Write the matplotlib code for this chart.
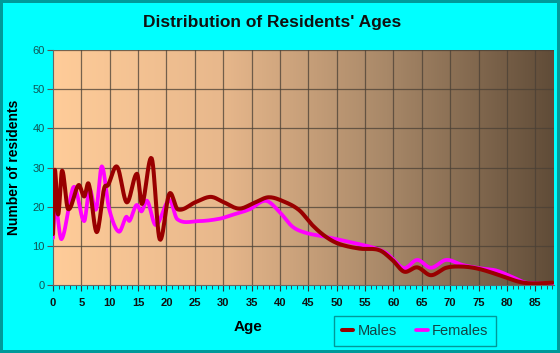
import numpy as np
import matplotlib
matplotlib.use("Agg")
from matplotlib import pyplot as plt
from matplotlib.colors import LinearSegmentedColormap

# values (age, residents)
male_ages = [0, 0.3, 0.9, 1.6, 2.65, 4.5, 5.5, 6.3, 7.7, 9.0, 9.7, 11.3, 13.0, 14.8,
             15.7, 17.4, 18.8, 20.5, 22.0, 25.2, 27.8, 30.0, 32.8, 35.5, 38.0, 40.7,
             43.4, 45.7, 48.1, 50.4, 54.0, 57.5, 59.8, 61.9, 64.2, 66.6, 69.3, 72.2,
             75.1, 78.7, 82.2, 84.6, 88.0]
male_counts = [13, 29.4, 18.0, 29.2, 19.4, 25.5, 22.6, 25.8, 13.5, 24.6, 25.5, 30.2, 21.1, 28.4,
               20.7, 32.3, 11.7, 23.3, 19.3, 21.2, 22.5, 21.2, 19.5, 21.0, 22.4, 21.3,
               19.1, 15.3, 12.3, 10.5, 9.3, 8.9, 6.4, 3.4, 4.5, 2.5, 4.4, 4.7,
               4.1, 2.5, 0.8, 0.4, 0.6]

female_ages = [0, 0.4, 1.5, 3.4, 4.0, 5.5, 6.4, 7.6, 8.6, 9.9, 11.6, 12.9, 13.5, 14.7,
               15.6, 16.6, 18.1, 20.5, 21.9, 25.5, 29.3, 31.6, 34.6, 37.5, 39.9, 42.2,
               44.6, 48.1, 52.2, 56.3, 58.6, 59.8, 61.9, 64.2, 66.6, 69.3, 72.2, 75.1,
               78.1, 81.0, 83.4, 88.0]
female_counts = [12, 20.5, 11.7, 24.3, 24.5, 16.3, 24.5, 19.3, 30.3, 19.4, 13.6, 17.4, 16.4, 20.4,
                 18.8, 21.5, 15.3, 21.7, 16.8, 16.3, 16.9, 17.9, 19.3, 21.5, 18.7, 14.9,
                 13.3, 12.3, 11.0, 9.6, 8.3, 6.8, 4.3, 6.4, 4.4, 6.4, 5.1, 4.3,
                 3.7, 2.0, 0.6, 0.4]

x_ticks = list(range(0, 90, 5))
y_ticks = list(range(0, 70, 10))


def smooth(xs, ys, n=12):
    # cubic hermite curve through the read points
    xs = np.asarray(xs, float)
    ys = np.asarray(ys, float)
    m = np.zeros_like(ys)
    m[1:-1] = (ys[2:] - ys[:-2]) / (xs[2:] - xs[:-2])
    m[0] = (ys[1] - ys[0]) / (xs[1] - xs[0])
    m[-1] = (ys[-1] - ys[-2]) / (xs[-1] - xs[-2])
    outx, outy = [], []
    for i in range(len(xs) - 1):
        h = xs[i + 1] - xs[i]
        t = np.linspace(0, 1, n, endpoint=False)
        h00 = 2 * t**3 - 3 * t**2 + 1
        h10 = t**3 - 2 * t**2 + t
        h01 = -2 * t**3 + 3 * t**2
        h11 = t**3 - t**2
        outx.extend(xs[i] + t * h)
        outy.extend(h00 * ys[i] + h10 * h * m[i] + h01 * ys[i + 1] + h11 * h * m[i + 1])
    outx.append(xs[-1])
    outy.append(ys[-1])
    return np.array(outx), np.clip(np.array(outy), 0, None)


plt.rcParams['font.family'] = ['Liberation Sans', 'DejaVu Sans']

fig = plt.figure(figsize=(5.6, 3.53), dpi=100, facecolor='#00FFFF',
                 edgecolor='#009999', linewidth=3)
ax = fig.add_axes([53 / 560, 1 - 285 / 353, 501 / 560, 235 / 353])

xmax = 88.3
cmap = LinearSegmentedColormap.from_list('bg', ['#FFCC99', '#E8B88C', '#A88868', '#604C38'])
grad = np.linspace(0, 1, 256).reshape(1, -1)
ax.imshow(grad, cmap=cmap, aspect='auto', extent=[0, xmax, 0, 60], zorder=0)

for x in x_ticks[1:]:
    ax.axvline(x, color='#4a4035', lw=0.9, alpha=0.75, zorder=1)
for y in y_ticks[1:]:
    ax.axhline(y, color='#4a4035', lw=0.9, alpha=0.75, zorder=1)

mx, my = smooth(male_ages, male_counts)
fx, fy = smooth(female_ages, female_counts)
ax.plot(fx, fy, color='#FF00FF', lw=2.7, label='Females', zorder=3, solid_capstyle='round')
ax.plot(mx, my, color='#990000', lw=2.9, label='Males', zorder=4, solid_capstyle='round')

ax.set_xlim(0, xmax)
ax.set_ylim(0, 60)
ax.set_xticks(x_ticks)
ax.set_xticks(range(0, 89), minor=True)
ax.set_yticks(y_ticks)
ax.tick_params(axis='x', which='major', length=4, color='#333333', labelsize=8, pad=5,
               labelcolor='#111111')
ax.tick_params(axis='x', which='minor', length=3, color='#333333')
ax.tick_params(axis='y', length=4, color='#555555', labelsize=8, labelcolor='#115555', pad=2)
for lab in ax.get_xticklabels():
    lab.set_fontweight('bold')
for side in ['top', 'right']:
    ax.spines[side].set_visible(False)
ax.spines['left'].set_color('#666666')
ax.spines['bottom'].set_color('#666666')

ax.set_xlabel('Age', fontsize=11, fontweight='bold', labelpad=9, x=0.39)
ax.set_ylabel('Number of residents', fontsize=10, fontweight='bold', labelpad=8)
fig.text(272 / 560, 1 - 23 / 353, "Distribution of Residents' Ages", ha='center', va='center',
         fontsize=12.5, fontweight='bold', color='#111111')

handles, labels = ax.get_legend_handles_labels()
leg = fig.legend(handles[::-1], labels[::-1], loc='center', bbox_to_anchor=(415 / 560, 1 - 331 / 353),
                 ncol=2, frameon=True, fancybox=False, fontsize=10.5, handlelength=0.8,
                 handletextpad=0.3, columnspacing=1.3, borderpad=0.55)
leg.get_frame().set_facecolor('#00FFFF')
leg.get_frame().set_edgecolor('#008080')
for t in leg.get_texts():
    t.set_color('#114444')

fig.savefig('out.png', dpi=100, facecolor=fig.get_facecolor(), edgecolor=fig.get_edgecolor())
